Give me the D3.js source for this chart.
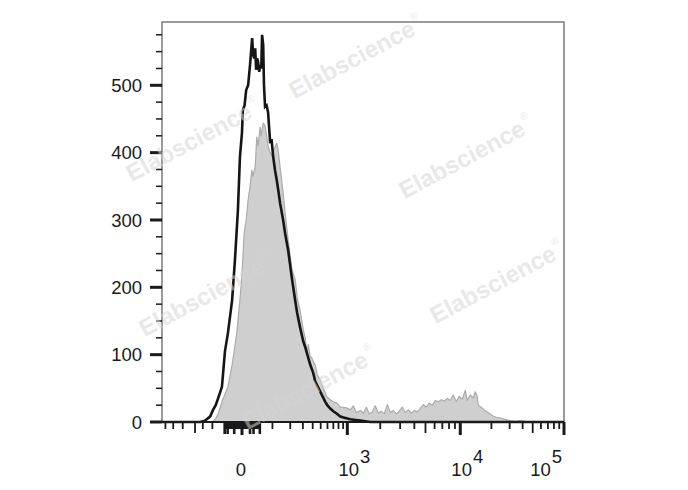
<!DOCTYPE html>
<html>
<head>
<meta charset="utf-8">
<script src="https://cdn.jsdelivr.net/npm/d3@7"></script>
<style>
  html, body { margin: 0; padding: 0; background: #fff; }
  svg { display: block; }
  text { font-family: "Liberation Sans", Arial, sans-serif; }
</style>
</head>
<body>
<svg id="chart" width="688" height="490"></svg>
<script>
// ---------------- DATA ----------------
// Filled grey histogram (fluorescence value, event count)
const filledValues = [-550, -100, -85, -75, -66, -60, -39, -26, -13, -5, 0, 5, 10, 15, 20, 25, 28, 35, 40, 44, 51, 55, 62, 69, 76, 81, 90, 98, 107, 121, 128, 138, 155, 167, 186, 213, 236, 251, 276, 303, 322, 338, 351, 373, 391, 406, 430, 454, 494, 536, 592, 646, 699, 770, 838, 980, 1067, 1138, 1213, 1320, 1406, 1497, 1594, 1697, 1805, 1921, 2043, 2173, 2312, 2457, 2613, 2777, 2951, 3137, 3333, 3541, 3763, 3996, 4245, 4508, 4787, 5083, 5398, 5731, 6084, 6460, 6857, 7279, 7727, 8200, 8704, 9238, 9803, 10460, 11180, 11680, 12490, 13350, 13960, 14590, 14920, 15950, 17050, 18220, 19470, 20810, 22240, 24300, 27150, 30320, 33870, 37830, 42260, 47190, 100000];
const filledCounts = [0, 0, 5, 12, 22, 30, 52, 85, 132, 181, 220, 280, 300, 330, 349, 374, 365, 379, 423, 410, 438, 425, 444, 440, 423, 410, 400, 395, 405, 414, 404, 379, 340, 310, 270, 225, 211, 185, 165, 137, 125, 102, 115, 98, 95, 90, 85, 70, 62, 50, 37, 33, 30, 28, 22, 21, 18, 24, 14, 17, 13, 22, 12, 15, 24, 13, 16, 12, 26, 14, 17, 12, 16, 22, 14, 18, 13, 17, 15, 20, 26, 22, 28, 25, 32, 30, 33, 31, 35, 32, 40, 30, 38, 34, 47, 32, 40, 36, 45, 38, 25, 22, 18, 15, 12, 9, 7, 6, 4, 2, 1, 2, 1, 0, 0];

// Black outline histogram (fluorescence value, event count)
const lineValues = [-550, -167, -138, -111, -97, -85, -75, -60, -49, -39, -26, -18, -10, -5, 0, 2, 6, 10, 15, 20, 26, 29, 32, 35, 38, 41, 44, 48, 51, 55, 58, 62, 65, 69, 75, 81, 90, 96, 103, 112, 120, 128, 138, 155, 167, 186, 213, 236, 251, 276, 303, 322, 373, 406, 430, 494, 566, 597, 646, 699, 776, 838, 951, 1067, 1187, 1320, 1466, 1628, 100000];
const lineCounts = [0, 0, 2, 8, 18, 25, 35, 52, 105, 132, 181, 240, 315, 393, 430, 463, 470, 493, 500, 530, 570, 545, 540, 555, 523, 540, 535, 520, 530, 525, 575, 560, 500, 468, 470, 460, 414, 420, 395, 374, 360, 345, 325, 300, 280, 255, 211, 180, 162, 140, 120, 111, 85, 73, 60, 45, 30, 25, 20, 16, 12, 8, 6, 4, 3, 2, 1, 0, 0];

// Axis ticks
const yTickValues = [0, 100, 200, 300, 400, 500];
const yMinorTicks = [25, 50, 75, 125, 150, 175, 225, 250, 275, 325, 350, 375, 425, 450, 475, 525, 550, 575];
const xMajorTicks = [0, 1000, 10000, 100000];
const xTickLabels = [["0", ""], ["10", "3"], ["10", "4"], ["10", "5"]];
const xMinorTicks = [-500, -400, -300, -200, -150, -100, 100, 200, 300, 400, 500, 600, 700, 800, 900,
  2000, 3000, 4000, 5000, 6000, 7000, 8000, 9000,
  20000, 30000, 40000, 50000, 60000, 70000, 80000, 90000];
const xNearZeroTicks = [-50, -45, -40, -35, -30, -25, -20, -15, -10, -5, 5, 10, 15, 20, 25, 30, 35, 40, 45, 50];
const xLongNearZero = [-50, -40, -20, 20, 30, 50];

const watermarkText = "Elabscience";

// ---------------- LAYOUT ----------------
const W = 688, H = 490;
const margin = { left: 162, right: 124, top: 22, bottom: 68 };
const innerW = W - margin.left - margin.right;
const innerH = H - margin.top - margin.bottom;
const x0 = margin.left, x1 = margin.left + innerW;
const yTop = margin.top, yBot = margin.top + innerH;

const svg = d3.select("#chart");

// Biexponential-like display scale (symlog, piecewise to match decade spacing)
const x = d3.scaleSymlog().constant(100)
  .domain([-550, 0, 1000, 10000, 100000])
  .range([x0, x0 + innerW * 0.199, x0 + innerW * 0.461, x0 + innerW * 0.742, x1]);
const y = d3.scaleLinear().domain([0, 594]).range([yBot, yTop]);

const filled = filledValues.map((v, i) => [v, filledCounts[i]]);
const line = lineValues.map((v, i) => [v, lineCounts[i]]);

// Filled histogram
svg.append("path")
  .datum(filled)
  .attr("d", d3.area().x(d => x(d[0])).y0(y(0)).y1(d => y(d[1])))
  .attr("fill", "#cfcfcf")
  .attr("stroke", "#ababab")
  .attr("stroke-width", 1.2)
  .attr("stroke-linejoin", "round");

// Black line histogram
svg.append("path")
  .datum(line)
  .attr("d", d3.line().x(d => x(d[0])).y(d => y(d[1])))
  .attr("fill", "none")
  .attr("stroke", "#151515")
  .attr("stroke-width", 2.6)
  .attr("stroke-linejoin", "miter");

// Frame
svg.append("rect")
  .attr("x", x0).attr("y", yTop)
  .attr("width", innerW).attr("height", innerH)
  .attr("fill", "none")
  .attr("stroke", "#7a7a7a")
  .attr("stroke-width", 1.5);

// Bottom axis line
svg.append("line")
  .attr("x1", x0).attr("x2", x1)
  .attr("y1", yBot).attr("y2", yBot)
  .attr("stroke", "#1a1a1a").attr("stroke-width", 2);

// Y axis ticks
const gy = svg.append("g");
gy.selectAll("line.ymaj").data(yTickValues).join("line")
  .attr("x1", x0 - 12).attr("x2", x0)
  .attr("y1", d => y(d)).attr("y2", d => y(d))
  .attr("stroke", "#1a1a1a").attr("stroke-width", 3);
gy.selectAll("line.ymin").data(yMinorTicks).join("line")
  .attr("class", "ymin")
  .attr("x1", x0 - 6).attr("x2", x0)
  .attr("y1", d => y(d)).attr("y2", d => y(d))
  .attr("stroke", "#1a1a1a").attr("stroke-width", 1.5);
gy.selectAll("text").data(yTickValues).join("text")
  .attr("x", x0 - 20).attr("y", d => y(d))
  .attr("dy", "0.36em")
  .attr("text-anchor", "end")
  .attr("font-size", 18.5)
  .attr("fill", "#1a1a1a")
  .text(d => d);

// X axis ticks
const gx = svg.append("g");
gx.selectAll("line.xmin").data(xMinorTicks).join("line")
  .attr("class", "xmin")
  .attr("x1", d => x(d)).attr("x2", d => x(d))
  .attr("y1", yBot).attr("y2", d => yBot + ((Math.abs(d) === 5000 || Math.abs(d) === 50000 || d === -200) ? 11 : 7))
  .attr("stroke", "#1a1a1a").attr("stroke-width", 1.8);
gx.selectAll("line.xzero").data(xNearZeroTicks).join("line")
  .attr("class", "xzero")
  .attr("x1", d => x(d)).attr("x2", d => x(d))
  .attr("y1", yBot).attr("y2", d => yBot + (xLongNearZero.includes(d) ? 12 : 7))
  .attr("stroke", "#1a1a1a").attr("stroke-width", 2.6);
gx.selectAll("line.xmaj").data(xMajorTicks).join("line")
  .attr("class", "xmaj")
  .attr("x1", d => x(d)).attr("x2", d => x(d))
  .attr("y1", yBot).attr("y2", yBot + 13)
  .attr("stroke", "#1a1a1a").attr("stroke-width", 3);

const labels = gx.selectAll("text").data(xMajorTicks).join("text")
  .attr("x", (d, i) => i === xMajorTicks.length - 1 ? x(d) - 2 : (i === 0 ? x(d) - 1 : x(d) + 7))
  .attr("y", yBot + 54)
  .attr("text-anchor", (d, i) => i === xMajorTicks.length - 1 ? "end" : "middle")
  .attr("font-size", 18.5)
  .attr("fill", "#1a1a1a");
labels.append("tspan").text((d, i) => xTickLabels[i][0]);
labels.append("tspan")
  .attr("dy", -13).attr("dx", 1)
  .text((d, i) => xTickLabels[i][1]);

// Watermarks
const wmPositions = [[356, 57], [193, 140], [466, 157], [206, 295], [497, 282], [309, 388]];
const wm = svg.append("g").attr("pointer-events", "none");
wmPositions.forEach(p => {
  const t = wm.append("text")
    .attr("transform", `translate(${p[0]},${p[1]}) rotate(-28)`)
    .attr("text-anchor", "middle")
    .attr("dy", "0.35em")
    .attr("font-size", 24)
    .attr("font-weight", "bold")
    .attr("fill", "#d4d4d4")
    .attr("fill-opacity", 0.55);
  t.append("tspan").text(watermarkText);
  t.append("tspan").attr("font-size", 10).attr("font-weight", "normal").attr("dy", -14).attr("dx", 2).text("®");
});
</script>
</body>
</html>
